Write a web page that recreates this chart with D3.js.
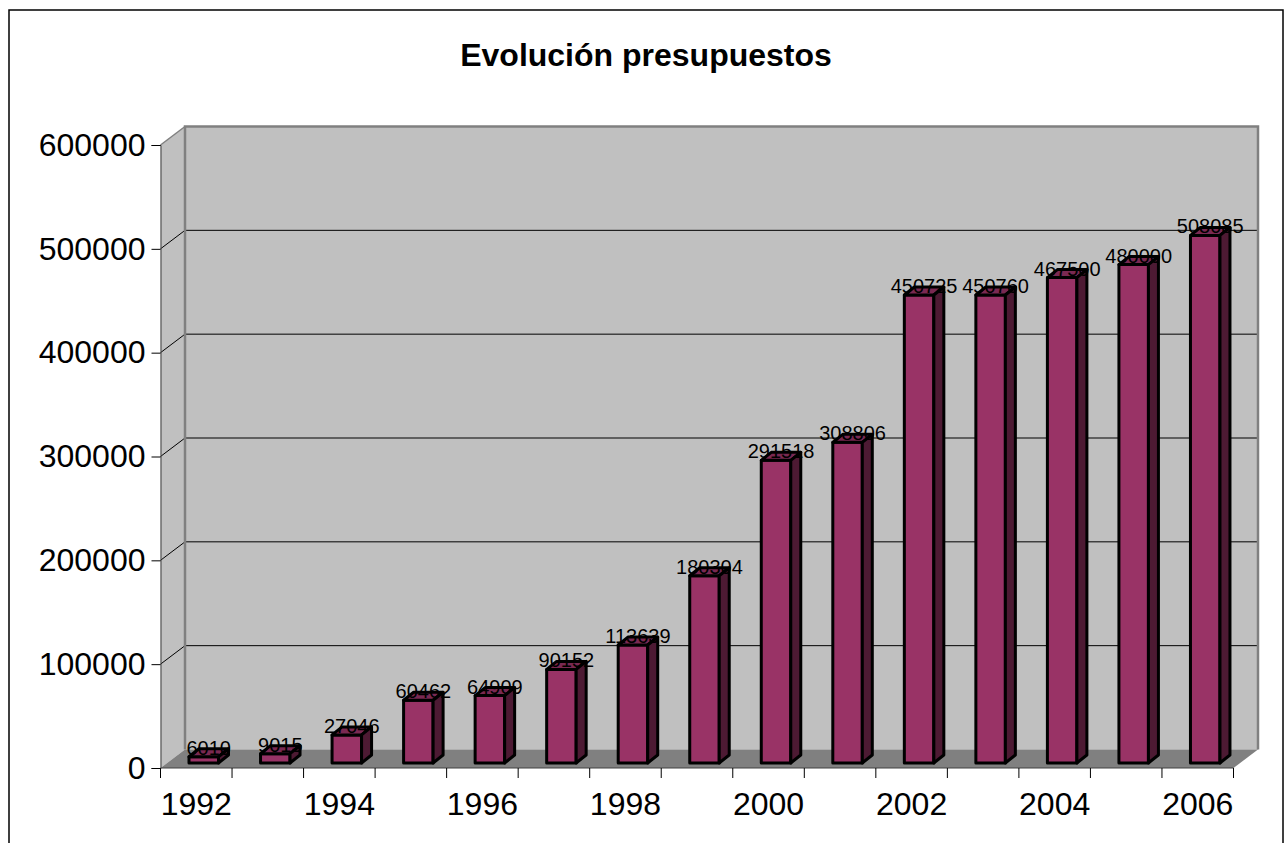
<!DOCTYPE html>
<html>
<head>
<meta charset="utf-8">
<style>
html, body { margin: 0; padding: 0; background: #fff; overflow: hidden; }
text { font-family: "Liberation Sans", Arial, sans-serif; fill: #000; }
</style>
<script src="https://cdn.jsdelivr.net/npm/d3@7"></script>
</head>
<body>
<div id="chart-container"></div>
<script>
const years = [1992, 1993, 1994, 1995, 1996, 1997, 1998, 1999, 2000, 2001, 2002, 2003, 2004, 2005, 2006];
const budgets = [6010, 9015, 27046, 60462, 64909, 90152, 113639, 180304, 291518, 308806, 450725, 450760, 467500, 480000, 508085];
const yTicks = [0, 100000, 200000, 300000, 400000, 500000, 600000];
const xLabels = [1992, 1994, 1996, 1998, 2000, 2002, 2004, 2006];
const chartTitle = "Evolución presupuestos";

const width = 1285, height = 843;

const svg = d3.select("#chart-container")
    .append("svg")
    .attr("width", width)
    .attr("height", height)
    .style("display", "block");

// outer frame runs off the bottom of the picture
svg.append("rect")
    .attr("x", 9).attr("y", 10)
    .attr("width", 1274).attr("height", 860)
    .attr("fill", "#fff").attr("stroke", "#000").attr("stroke-width", 1.5);

svg.append("text")
    .attr("x", 646).attr("y", 66)
    .attr("text-anchor", "middle")
    .attr("font-weight", "bold")
    .attr("font-size", "32px")
    .text(chartTitle);

const x = d3.scaleBand().domain(years).range([160.5, 1233.5]);
const y = d3.scaleLinear().domain([0, 600000]).range([768, 145]);

const depthX = 24.5, depthY = -18.5;  // wall / floor offset
const left = x.range()[0], right = x.range()[1];
const y0 = y(0), yTop = y(600000);

// side wall
svg.append("polygon")
    .attr("points", [[left, y0], [left + depthX, y0 + depthY], [left + depthX, yTop + depthY], [left, yTop]].join(" "))
    .attr("fill", "#c0c0c0");

// back wall
svg.append("rect")
    .attr("x", left + depthX).attr("y", yTop + depthY)
    .attr("width", right - left).attr("height", y0 - yTop)
    .attr("fill", "#c0c0c0");

// floor
svg.append("polygon")
    .attr("points", [[left, y0], [right, y0], [right + depthX, y0 + depthY], [left + depthX, y0 + depthY]].join(" "))
    .attr("fill", "#808080");

// gridlines bent around the side wall
svg.append("g")
    .selectAll("polyline")
    .data(yTicks.filter(function(d) { return d > 0 && d < 600000; }))
    .join("polyline")
    .attr("points", function(d) {
        return [[left, y(d)], [left + depthX, y(d) + depthY], [right + depthX, y(d) + depthY]].join(" ");
    })
    .attr("fill", "none")
    .attr("stroke", "#000")
    .attr("stroke-width", 1);

// wall edges
svg.append("path")
    .attr("d", "M" + (left + depthX) + "," + (y0 + depthY) + "V" + (yTop + depthY) + "H" + (right + depthX) + "V" + (y0 + depthY))
    .attr("fill", "none")
    .attr("stroke", "#808080")
    .attr("stroke-width", 2.5);
svg.append("path")
    .attr("d", "M" + left + "," + yTop + "L" + (left + depthX) + "," + (yTop + depthY))
    .attr("fill", "none")
    .attr("stroke", "#808080")
    .attr("stroke-width", 1.5);

// axes
const yAxis = d3.axisLeft(y).tickValues(yTicks).tickSize(9).tickPadding(6).tickFormat(d3.format("d"));
const gy = svg.append("g").attr("transform", "translate(" + left + ",0)").call(yAxis);
gy.select(".domain").attr("stroke", "#404040").attr("stroke-width", 1);
gy.selectAll("text").attr("font-size", "32px").style("font-family", '"Liberation Sans", Arial, sans-serif');

const xTickScale = d3.scaleLinear().domain([0, years.length]).range([left, right]);
const gx = svg.append("g").attr("transform", "translate(0," + y0 + ")");
gx.append("line").attr("x1", left).attr("x2", right).attr("stroke", "#404040");
gx.selectAll("line.tick")
    .data(d3.range(years.length + 1))
    .join("line")
    .attr("class", "tick")
    .attr("x1", function(d) { return xTickScale(d); })
    .attr("x2", function(d) { return xTickScale(d); })
    .attr("y2", 10)
    .attr("stroke", "#000");
gx.selectAll("text")
    .data(xLabels)
    .join("text")
    .attr("x", function(d) { return x(d) + x.bandwidth() / 2; })
    .attr("y", 47)
    .attr("text-anchor", "middle")
    .attr("font-size", "32px")
    .text(function(d) { return d; });

// bars, drawn as little boxes
const barW = 29.5, barInset = 28.5, barDx = 10, barDy = -8, barLift = 5;
const bars = svg.append("g")
    .selectAll("g")
    .data(years.map(function(yr, i) { return {year: yr, value: budgets[i]}; }))
    .join("g")
    .attr("stroke", "#000")
    .attr("stroke-width", 3)
    .attr("stroke-linejoin", "round");

function barLeft(d) { return x(d.year) + barInset; }
function barTop(d) { return y(d.value) - barLift; }
const barBottom = y0 - barLift;

bars.append("rect")
    .attr("x", barLeft)
    .attr("y", barTop)
    .attr("width", barW)
    .attr("height", function(d) { return barBottom - barTop(d); })
    .attr("fill", "#993366");

bars.append("polygon")
    .attr("points", function(d) {
        const l = barLeft(d), t = barTop(d);
        return [[l, t], [l + barDx, t + barDy], [l + barW + barDx, t + barDy], [l + barW, t]].join(" ");
    })
    .attr("fill", "#7a2952");

bars.append("polygon")
    .attr("points", function(d) {
        const r = barLeft(d) + barW, t = barTop(d);
        return [[r, t], [r + barDx, t + barDy], [r + barDx, barBottom + barDy], [r, barBottom]].join(" ");
    })
    .attr("fill", "#4d1a33");

svg.append("g")
    .selectAll("text")
    .data(years.map(function(yr, i) { return {year: yr, value: budgets[i]}; }))
    .join("text")
    .attr("x", function(d) { return barLeft(d) + barW / 2 + 5; })
    .attr("y", function(d) { return barTop(d) - 2; })
    .attr("text-anchor", "middle")
    .attr("font-size", "20px")
    .text(function(d) { return d.value; });
</script>
</body>
</html>
